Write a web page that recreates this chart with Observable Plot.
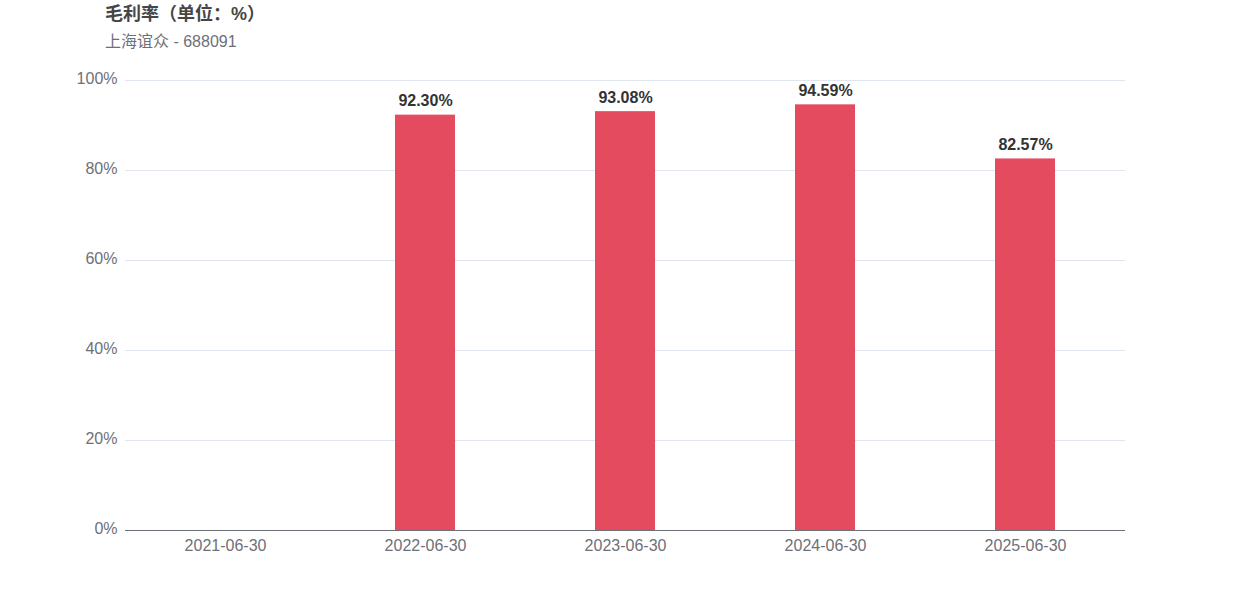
<!DOCTYPE html>
<html>
<head>
<meta charset="utf-8">
<script src="https://cdn.jsdelivr.net/npm/d3@7"></script>
<script src="https://cdn.jsdelivr.net/npm/@observablehq/plot@0.6"></script>
<style>
  html, body { margin: 0; padding: 0; background: #fff; }
  #wrap { position: relative; width: 1250px; height: 600px; font-family: "Liberation Sans", Arial, "Noto Sans CJK SC", sans-serif; }
  #title { position: absolute; left: 105px; top: -1px; font-size: 18px; font-weight: bold; color: #464646; font-family: "Liberation Sans", "Noto Sans CJK SC", sans-serif; }
  #subtitle { position: absolute; left: 105px; top: 28px; font-size: 16px; color: #6E7079; font-family: "Liberation Sans", "Noto Sans CJK SC", sans-serif; }
  #chart { position: absolute; left: 0; top: 0; }
</style>
</head>
<body>
<div id="wrap">
  <div id="chart"></div>
  <div id="title">毛利率（单位：%）</div>
  <div id="subtitle">上海谊众 - 688091</div>
</div>
<script>
const dates = ["2021-06-30", "2022-06-30", "2023-06-30", "2024-06-30", "2025-06-30"];
const margins = [null, 92.30, 93.08, 94.59, 82.57];
const yTicks = [0, 20, 40, 60, 80, 100];

const data = dates.map((d, i) => ({date: d, value: margins[i]}));
const present = data.filter(d => d.value != null);

const chart = Plot.plot({
  width: 1250,
  height: 600,
  marginTop: 80,
  marginBottom: 70,
  marginLeft: 125,
  marginRight: 125,
  style: {fontFamily: '"Liberation Sans", Arial, sans-serif', fontSize: "16px", background: "transparent"},
  x: {domain: dates, paddingInner: 0.7, paddingOuter: 0.35, label: null},
  y: {domain: [0, 100], label: null},
  marks: [
    Plot.gridY(yTicks.filter(t => t > 0), {stroke: "#E0E6F1", strokeOpacity: 1}),
    Plot.barY(present, {x: "date", y: "value", fill: "#E54B5E"}),
    Plot.ruleY([0], {stroke: "#6E7079", strokeWidth: 1}),
    Plot.axisX({tickSize: 0, tickPadding: 9, fill: "#6E7079", fontSize: 16}),
    Plot.axisY({ticks: yTicks, tickSize: 0, tickPadding: 8, dy: -2, tickFormat: d => d + "%", fill: "#6E7079", fontSize: 16}),
    Plot.text(present, {x: "date", y: "value", text: d => d.value.toFixed(2) + "%", dy: -14, fontWeight: "bold", fontSize: 16, fill: "#333333"})
  ]
});
document.getElementById("chart").appendChild(chart);
</script>
</body>
</html>
